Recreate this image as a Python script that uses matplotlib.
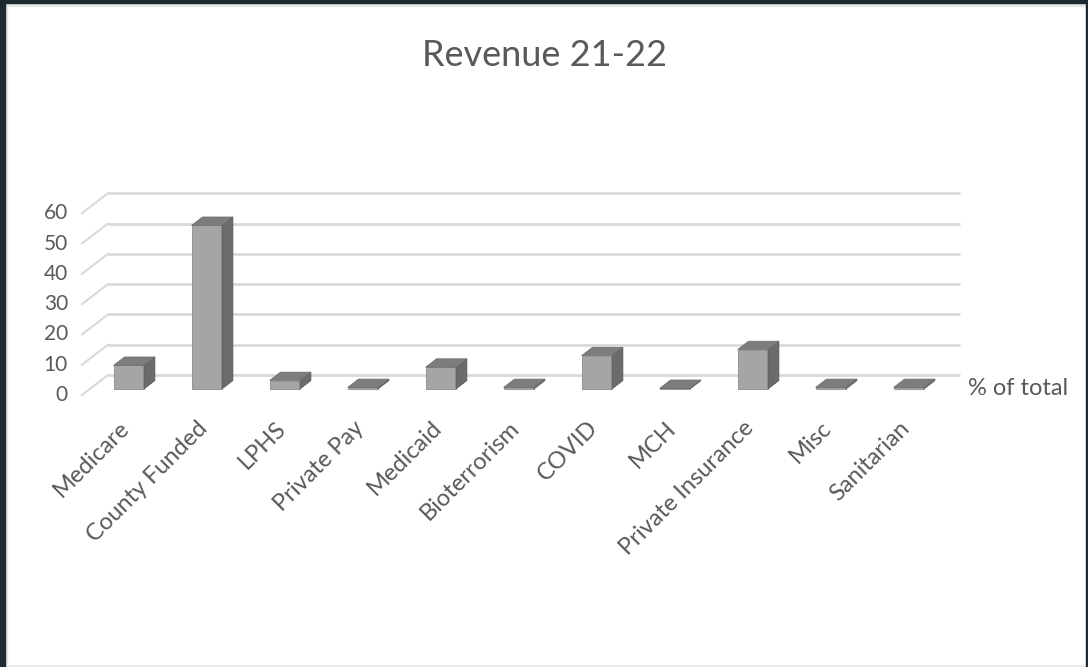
import numpy as np
import matplotlib.pyplot as plt
from matplotlib.patches import Polygon, Rectangle

categories = ["Medicare", "County Funded", "LPHS", "Private Pay", "Medicaid",
              "Bioterrorism", "COVID", "MCH", "Private Insurance", "Misc", "Sanitarian"]
pct_of_total = [7.8, 54.0, 2.8, 0.5, 7.2, 0.5, 11.0, 0.2, 13.0, 0.5, 0.5]
y_ticks = [0, 10, 20, 30, 40, 50, 60]
series_name = "% of total"
title = "Revenue 21-22"

# pixel layout of the fake 3d box (front plane)
PX0, PXW = 121, 78          # px of category 0, px per category
PY0, PYV = 395, 3.03        # px of value 0, px per value unit
W, H = 1088, 667
DEPTH_X = 26 / PXW          # wall depth in category units
DEPTH_Y = 20 / PYV          # wall depth in value units

TEXT = "#595959"
GRID = "#d9d9d9"
FRONT = "#a5a5a5"
SIDE = "#6b6b6b"
TOP = "#7d7d7d"

plt.rcParams['font.family'] = ['Lato', 'DejaVu Sans']


def shift(d):
    return DEPTH_X * d, DEPTH_Y * d


def main():
    fig = plt.figure(figsize=(W / 100, H / 100), dpi=100)
    ax = fig.add_axes([0, 0, 1, 1])
    ax.set_xlim(-PX0 / PXW, (W - PX0) / PXW)
    ax.set_ylim((PY0 - H) / PYV, PY0 / PYV)
    ax.axis("off")

    x_left = -0.5
    x_right = (960 - PX0) / PXW - DEPTH_X
    bx, by = shift(1.0)

    # back wall gridlines and left wall diagonals
    for v in y_ticks:
        ax.plot([x_left + bx, x_right + bx], [v + by, v + by],
                color=GRID, lw=2, solid_capstyle="butt", zorder=1)
        ax.plot([x_left, x_left + bx], [v, v + by], color=GRID, lw=1.5, zorder=1)
        ax.text(x_left - 0.18, v, str(v), ha="right", va="center",
                fontsize=15, color=TEXT)

    # bars: front face + side + top, sitting part way into the box
    fx, fy = shift(0.3)
    dx, dy = shift(0.42)
    half = 0.195
    for i, v in enumerate(pct_of_total):
        x0, x1 = i - half + fx, i + half + fx
        y0, y1 = fy, fy + v
        ax.bar(i + fx, v, width=2 * half, bottom=fy, color=FRONT,
               edgecolor="#8c8c8c", lw=0.6, zorder=3)
        side = [(x1, y0), (x1 + dx, y0 + dy), (x1 + dx, y1 + dy), (x1, y1)]
        top = [(x0, y1), (x1, y1), (x1 + dx, y1 + dy), (x0 + dx, y1 + dy)]
        ax.add_patch(Polygon(side, closed=True, fc=SIDE, ec="#5a5a5a", lw=0.5, zorder=3))
        ax.add_patch(Polygon(top, closed=True, fc=TOP, ec="#6a6a6a", lw=0.5, zorder=4))

    # category labels, rotated like the excel axis
    for i, name in enumerate(categories):
        ax.annotate(name, (i, 0), xytext=(-1.5, -16), textcoords="offset points",
                    ha="right", va="top", rotation=45, rotation_mode="anchor",
                    fontsize=17, color=TEXT)

    # series label at the right
    ax.text((968 - PX0) / PXW, (PY0 - 388) / PYV, series_name, ha="left",
            va="center", fontsize=17, color=TEXT)

    fig.text(0.5, 1 - 55 / H, title, ha="center", va="center",
             fontsize=26, color=TEXT)

    # screenshot frame
    fig.patches.append(Rectangle((0, 0), 5 / W, 1, transform=fig.transFigure,
                                 color="#1d2a31", zorder=10))
    fig.patches.append(Rectangle((0, 1 - 3 / H), 1, 3 / H, transform=fig.transFigure,
                                 color="#1d2a31", zorder=10))
    fig.patches.append(Rectangle((1 - 2 / W, 0), 2 / W, 1, transform=fig.transFigure,
                                 color="#1d2a31", zorder=10))
    fig.patches.append(Rectangle((5 / W, 1 - 6 / H), 1, 3 / H, transform=fig.transFigure,
                                 color="#e6e6e6", zorder=9))
    fig.patches.append(Rectangle((5 / W, 0), 2 / W, 1, transform=fig.transFigure,
                                 color="#e6e6e6", zorder=9))
    fig.patches.append(Rectangle((0, 0), 1, 2 / H, transform=fig.transFigure,
                                 color="#ececec", zorder=9))

    fig.savefig("out.png", dpi=100)


if __name__ == "__main__":
    main()
